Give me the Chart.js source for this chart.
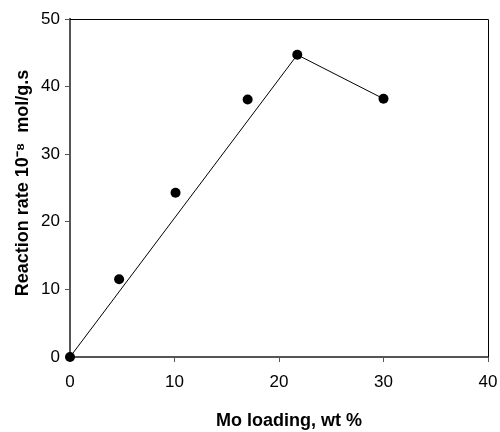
<!DOCTYPE html>
<html>
<head>
<meta charset="utf-8">
<script src="https://cdn.jsdelivr.net/npm/chart.js@4/dist/chart.umd.min.js"></script>
<style>
  html, body { margin: 0; padding: 0; background: #fff; }
  #wrap { width: 500px; height: 432px; }
</style>
</head>
<body>
<div id="wrap"><canvas id="chart" width="500" height="432"></canvas></div>
<script>
// Measured points (Mo loading wt %, reaction rate 10^-8 mol/g.s)
const moLoading = [0, 4.7, 10.1, 17.0, 21.75, 30.0];
const reactionRate = [0, 11.5, 24.3, 38.1, 44.7, 38.2];

// Guide line drawn through the origin, the peak and the last point
const lineLoading = [0, 21.75, 30.0];
const lineRate = [0, 44.7, 38.2];

const xTicks = [0, 10, 20, 30, 40];
const yTicks = [0, 10, 20, 30, 40, 50];

const toXY = (xs, ys) => xs.map((x, i) => ({ x: x, y: ys[i] }));

// draws the thin top/right edges of the frame
const frame = {
    id: 'frame',
    afterDraw(chart) {
        const a = chart.chartArea;
        const ctx = chart.ctx;
        ctx.save();
        ctx.strokeStyle = '#000';
        ctx.lineWidth = 1;
        ctx.beginPath();
        ctx.moveTo(a.left, a.top + 0.5);
        ctx.lineTo(a.right + 0.5, a.top + 0.5);
        ctx.lineTo(a.right + 0.5, a.bottom);
        ctx.stroke();
        ctx.restore();
    }
};

const axisColor = '#555';
const tickFont = { family: 'Liberation Sans, Arial, sans-serif', size: 17 };
const titleFont = { family: 'Liberation Sans, Arial, sans-serif', size: 18, weight: 'bold' };

new Chart(document.getElementById('chart').getContext('2d'), {
    type: 'scatter',
    data: {
        datasets: [
            {
                label: 'fit',
                data: toXY(lineLoading, lineRate),
                showLine: true,
                borderColor: '#000',
                borderWidth: 1,
                pointRadius: 0,
                fill: false,
                clip: false
            },
            {
                label: 'rate',
                data: toXY(moLoading, reactionRate),
                showLine: false,
                pointRadius: 5,
                pointBackgroundColor: '#000',
                pointBorderColor: '#000',
                pointBorderWidth: 0,
                clip: false
            }
        ]
    },
    options: {
        responsive: false,
        animation: false,
        events: [],
        layout: { padding: { top: 19, right: 0, left: 0, bottom: 0 } },
        plugins: {
            legend: { display: false },
            tooltip: { enabled: false }
        },
        scales: {
            x: {
                type: 'linear',
                min: 0,
                max: 40,
                afterBuildTicks(axis) { axis.ticks = xTicks.map(v => ({ value: v })); },
                afterFit(axis) {
                    axis.height = 75;
                    axis.paddingRight = 12;
                },
                border: { display: true, color: axisColor, width: 2 },
                grid: { drawOnChartArea: false, drawTicks: true, tickLength: 5, color: axisColor, lineWidth: 1 },
                ticks: { color: '#000', font: tickFont, padding: 10, maxRotation: 0 },
                title: {
                    display: true,
                    text: '    Mo loading, wt %',
                    color: '#000',
                    font: titleFont,
                    padding: { top: 0, bottom: 0 }
                }
            },
            y: {
                type: 'linear',
                min: 0,
                max: 50,
                afterBuildTicks(axis) { axis.ticks = yTicks.map(v => ({ value: v })); },
                afterFit(axis) { axis.width = 70; },
                border: { display: true, color: axisColor, width: 2 },
                grid: { drawOnChartArea: false, drawTicks: true, tickLength: 5, color: axisColor, lineWidth: 1 },
                ticks: { color: '#000', font: tickFont, padding: 5 },
                title: {
                    display: true,
                    text: '  Reaction rate 10\u207B\u2078  mol/g.s',
                    color: '#000',
                    font: titleFont,
                    padding: { top: 12, bottom: 0 }
                }
            }
        }
    },
    plugins: [frame]
});
</script>
</body>
</html>
